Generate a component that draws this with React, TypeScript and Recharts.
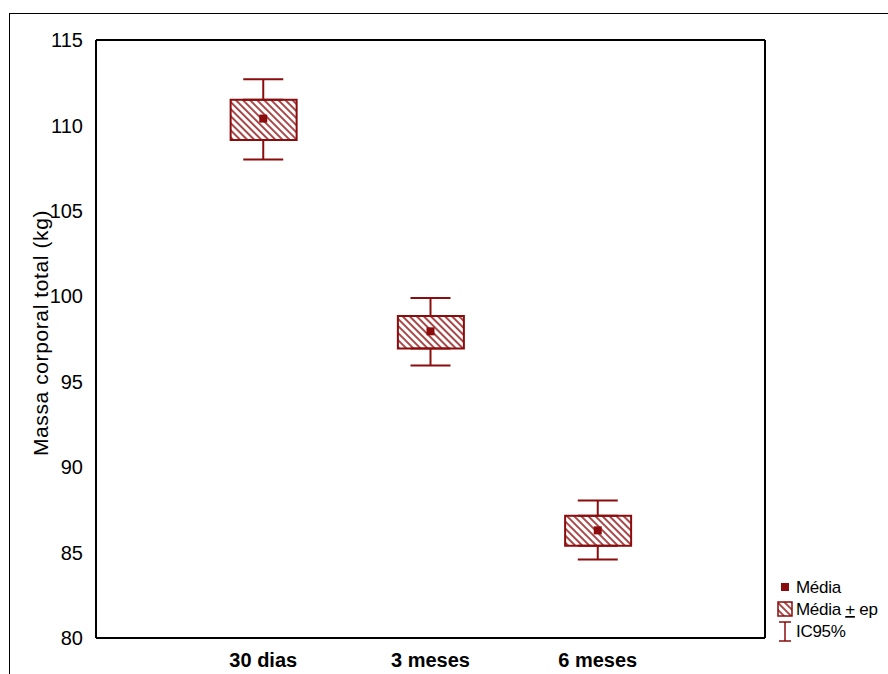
import React from "react";
import {
  ComposedChart,
  Bar,
  Scatter,
  ErrorBar,
  XAxis,
  YAxis,
  Legend,
} from "recharts";

const categories = ["30 dias", "3 meses", "6 meses"];
const media = [110.4, 97.95, 86.3];
const epLow = [109.15, 96.95, 85.4];
const epHigh = [111.5, 98.85, 87.15];
const icLow = [108.0, 95.95, 84.6];
const icHigh = [112.7, 99.9, 88.05];
const yTicks = [80, 85, 90, 95, 100, 105, 110, 115];

const RED = "#8b0c0c";

const data = categories.map((name, i) => ({
  x: i + 1,
  name,
  media: media[i],
  ep: [epLow[i], epHigh[i]],
  epLow: epLow[i],
  epHigh: epHigh[i],
  whiskerUp: [0, icHigh[i] - epHigh[i]],
  whiskerDown: [epLow[i] - icLow[i], 0],
}));

const MeanMarker = (props: any) => {
  const { cx, cy } = props;
  if (cx == null || cy == null) return <g />;
  return <rect x={cx - 4} y={cy - 4} width={8} height={8} fill={RED} />;
};

const Hidden = () => <g />;

const YLabel = (props: any) => {
  const vb = props.viewBox || {};
  const x = vb.x + 40;
  const y = vb.y + vb.height / 2 - 6;
  return (
    <text
      x={x}
      y={y}
      transform={`rotate(-90, ${x}, ${y})`}
      textAnchor="middle"
      dominantBaseline="central"
      fontSize={21}
      letterSpacing={0.6}
      fill="#000"
    >
      Massa corporal total (kg)
    </text>
  );
};

const LegendContent = () => (
  <svg width={120} height={70} style={{ overflow: "visible" }}>
    <rect x={4} y={8} width={8} height={8} fill={RED} />
    <text x={19} y={18} fontSize={17} letterSpacing={-0.3} fill="#000">Média</text>
    <rect x={1} y={27} width={14} height={14} fill="url(#hatch)" stroke={RED} strokeWidth={1.5} />
    <text x={19} y={40} fontSize={17} letterSpacing={-0.3} fill="#000">
      Média <tspan textDecoration="underline">+</tspan> ep
    </text>
    <line x1={8} y1={47} x2={8} y2={66} stroke={RED} strokeWidth={1.5} />
    <line x1={2} y1={47} x2={14} y2={47} stroke={RED} strokeWidth={1.5} />
    <line x1={2} y1={66} x2={14} y2={66} stroke={RED} strokeWidth={1.5} />
    <text x={19} y={62} fontSize={17} letterSpacing={-0.3} fill="#000">IC95%</text>
  </svg>
);

export default function App() {
  return (
    <div style={{ position: "relative", width: 888, height: 674, overflow: "hidden", background: "#fff" }}>
      <style>{`body{margin:0;overflow:hidden;background:#fff}`}</style>
      {/* outer frame */}
      <div
        style={{
          position: "absolute",
          left: 9,
          top: 13,
          width: 900,
          height: 700,
          border: "1.5px solid #000",
          boxSizing: "border-box",
        }}
      />
      <div style={{ position: "absolute", left: 0, top: 0 }}>
        <ComposedChart
          width={888}
          height={674}
          data={data}
          margin={{ top: 40, right: 123, bottom: 0, left: 0 }}
          style={{ fontFamily: "Arial, 'Liberation Sans', sans-serif" }}
        >
          <defs>
            <pattern
              id="hatch"
              patternUnits="userSpaceOnUse"
              width={5}
              height={5}
              patternTransform="rotate(-45)"
            >
              <rect width={5} height={5} fill="#fff" />
              <line x1={1} y1={0} x2={1} y2={5} stroke={RED} strokeWidth={1.5} />
            </pattern>
          </defs>
          <XAxis
            xAxisId="main"
            dataKey="x"
            type="number"
            domain={[0, 4]}
            ticks={[1, 2, 3]}
            tickFormatter={(v: number) => categories[v - 1]}
            tickLine={false}
            axisLine={{ stroke: "#000", strokeWidth: 2 }}
            tick={{ fill: "#000", fontSize: 20, fontWeight: "bold" }}
            tickMargin={9}
            height={36}
            allowDataOverflow
          />
          <XAxis
            xAxisId="bottomTicks"
            type="number"
            domain={[0, 4]}
            ticks={[1, 2, 3]}
            mirror
            tick={false}
            tickSize={4}
            tickLine={{ stroke: "#000" }}
            axisLine={false}
          />
          <XAxis
            xAxisId="top"
            orientation="top"
            type="number"
            domain={[0, 4]}
            ticks={[]}
            mirror
            tick={false}
            tickLine={false}
            axisLine={{ stroke: "#000", strokeWidth: 2 }}
          />
          <YAxis
            yAxisId="main"
            type="number"
            domain={[80, 115]}
            ticks={yTicks}
            tickLine={false}
            axisLine={{ stroke: "#000", strokeWidth: 2 }}
            tick={{ fill: "#000", fontSize: 20 }}
            tickMargin={7}
            width={96}
            allowDataOverflow
            label={<YLabel />}
          />
          <YAxis
            yAxisId="leftTicks"
            type="number"
            domain={[80, 115]}
            ticks={yTicks}
            mirror
            tick={false}
            tickSize={4}
            tickLine={{ stroke: "#000" }}
            axisLine={false}
          />
          <YAxis
            yAxisId="right"
            orientation="right"
            type="number"
            domain={[80, 115]}
            ticks={yTicks}
            mirror
            tick={false}
            tickSize={4}
            tickLine={{ stroke: "#000" }}
            axisLine={{ stroke: "#000", strokeWidth: 2 }}
          />
          <Scatter
            xAxisId="main"
            yAxisId="main"
            dataKey="epHigh"
            shape={<Hidden />}
            isAnimationActive={false}
            legendType="none"
          >
            <ErrorBar dataKey="whiskerUp" direction="y" width={20} stroke={RED} strokeWidth={2} />
          </Scatter>
          <Scatter
            xAxisId="main"
            yAxisId="main"
            dataKey="epLow"
            shape={<Hidden />}
            isAnimationActive={false}
            legendType="none"
          >
            <ErrorBar dataKey="whiskerDown" direction="y" width={20} stroke={RED} strokeWidth={2} />
          </Scatter>
          <Bar
            xAxisId="main"
            yAxisId="main"
            dataKey="ep"
            barSize={66}
            fill="url(#hatch)"
            stroke={RED}
            strokeWidth={2}
            isAnimationActive={false}
          />
          <Scatter
            xAxisId="main"
            yAxisId="main"
            dataKey="media"
            shape={<MeanMarker />}
            isAnimationActive={false}
          />
          <Legend
            layout="vertical"
            align="center"
            verticalAlign="middle"
            content={<LegendContent />}
            wrapperStyle={{ left: 777, top: 575, width: 120, height: 70 }}
          />
        </ComposedChart>
      </div>
    </div>
  );
}
